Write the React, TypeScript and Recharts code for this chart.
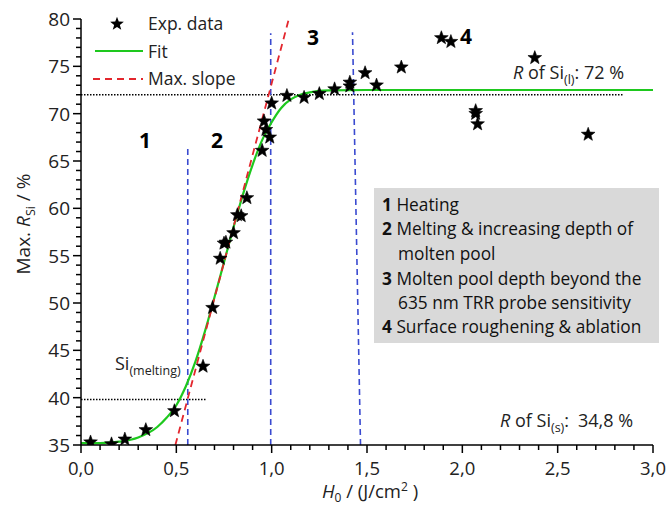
import { ComposedChart, XAxis, YAxis, Scatter, Line, ReferenceLine } from 'recharts'

const expH = [0.05, 0.16, 0.23, 0.34, 0.49, 0.64, 0.69, 0.73, 0.75, 0.76, 0.8, 0.82, 0.84, 0.87, 0.95, 0.96, 0.97, 0.99, 1.0, 1.08, 1.17, 1.25, 1.33, 1.41, 1.41, 1.49, 1.55, 1.68, 1.89, 1.94, 2.07, 2.07, 2.08, 2.38, 2.66]
const expR = [35.3, 35.1, 35.6, 36.6, 38.6, 43.3, 49.5, 54.7, 56.3, 56.4, 57.4, 59.3, 59.2, 61.1, 66.1, 69.2, 68.3, 67.5, 71.1, 71.9, 71.7, 72.1, 72.6, 73.3, 72.9, 74.3, 73.0, 74.9, 78.0, 77.6, 70.3, 70.0, 68.9, 75.9, 67.8]

// fitted curve
const fitH = [0, 0.1, 0.2, 0.3, 0.4, 0.45, 0.5, 0.55, 0.6, 0.65, 0.7, 0.75, 0.8, 0.85, 0.9, 0.95, 1.0, 1.05, 1.1, 1.15, 1.2, 1.3, 1.5, 3.0]
const fitR = [35.2, 35.2, 35.35, 35.8, 36.9, 37.9, 39.2, 41.2, 43.8, 47.0, 50.6, 54.3, 58.0, 61.5, 64.6, 67.2, 69.1, 70.6, 71.5, 72.0, 72.25, 72.45, 72.5, 72.5]

// max slope tangent
const slopeH = [0.495, 1.09]
const slopeR = [35, 80]

const xTicks = [0, 0.1, 0.2, 0.3, 0.4, 0.5, 0.6, 0.7, 0.8, 0.9, 1.0, 1.1, 1.2, 1.3, 1.4, 1.5, 1.6, 1.7, 1.8, 1.9, 2.0, 2.1, 2.2, 2.3, 2.4, 2.5, 2.6, 2.7, 2.8, 2.9, 3.0]
const yTicks = [35, 36, 37, 38, 39, 40, 41, 42, 43, 44, 45, 46, 47, 48, 49, 50, 51, 52, 53, 54, 55, 56, 57, 58, 59, 60, 61, 62, 63, 64, 65, 66, 67, 68, 69, 70, 71, 72, 73, 74, 75, 76, 77, 78, 79, 80]

const expData = expH.map((x, i) => ({ x, y: expR[i] }))
const fitData = fitH.map((x, i) => ({ x, y: fitR[i] }))
const slopeData = slopeH.map((x, i) => ({ x, y: slopeR[i] }))

const FONT = '"Open Sans", sans-serif'
const GREEN = '#1ec81e'
const RED = '#e3262d'
const BLUE = '#3a4ad0'

function starPoints(cx: number, cy: number, ro: number, ri: number) {
  const pts: string[] = []
  for (let i = 0; i < 10; i++) {
    const a = ((-90 + i * 36) * Math.PI) / 180
    const r = i % 2 === 0 ? ro : ri
    pts.push(`${cx + r * Math.cos(a)},${cy + r * Math.sin(a)}`)
  }
  return pts.join(' ')
}

const Star = (props: any) => {
  const { cx, cy } = props
  if (cx == null || cy == null) return null
  return <polygon points={starPoints(cx, cy, 7.2, 3)} fill="#000" stroke="#000" strokeWidth={0.6} />
}

const XTick = (props: any) => {
  const { x, y, payload } = props
  const v = payload.value as number
  const major = Math.round(v * 10) % 5 === 0
  return (
    <g>
      <line x1={x} y1={y} x2={x} y2={y + (major ? 8 : 5)} stroke="#000" strokeWidth={1.5} />
      {major && (
        <text x={x} y={y + 30} textAnchor="middle" fontSize={18.5} fontFamily={FONT} fill="#222">
          {v.toFixed(1).replace('.', ',')}
        </text>
      )}
    </g>
  )
}

const YTick = (props: any) => {
  const { x, y, payload } = props
  const v = payload.value as number
  const major = v % 5 === 0
  return (
    <g>
      <line x1={x - (major ? 8 : 5)} y1={y} x2={x} y2={y} stroke="#000" strokeWidth={1.5} />
      {major && (
        <text x={x - 11} y={y + 7} textAnchor="end" fontSize={19} fontFamily={FONT} fill="#222">
          {v}
        </text>
      )}
    </g>
  )
}

export default function App() {
  return (
    <div style={{ position: 'relative', width: 669, height: 505, background: '#fff' }}>
      <style>{'body{margin:0}'}</style>
      <ComposedChart width={669} height={505} margin={{ top: 19, right: 16, bottom: 0, left: 0 }}>
        <XAxis
          type="number"
          dataKey="x"
          domain={[0, 3]}
          ticks={xTicks}
          interval={0}
          tickLine={false}
          tickSize={0}
          tickMargin={0}
          tick={<XTick />}
          axisLine={{ stroke: '#000', strokeWidth: 1.5 }}
          height={60}
          allowDataOverflow
        />
        <YAxis
          type="number"
          dataKey="y"
          domain={[35, 80]}
          ticks={yTicks}
          interval={0}
          tickLine={false}
          tickSize={0}
          tickMargin={0}
          tick={<YTick />}
          axisLine={{ stroke: '#000', strokeWidth: 1.5 }}
          width={81}
          allowDataOverflow
        />
        <ReferenceLine segment={[{ x: 0, y: 72 }, { x: 2.84, y: 72 }]} stroke="#000" strokeDasharray="1.5 1.5" strokeWidth={1.5} />
        <ReferenceLine segment={[{ x: 0, y: 39.8 }, { x: 0.655, y: 39.8 }]} stroke="#000" strokeDasharray="1.5 1.5" strokeWidth={1.5} />
        <ReferenceLine segment={[{ x: 0.56, y: 35 }, { x: 0.56, y: 66.3 }]} stroke={BLUE} strokeDasharray="6 4" strokeWidth={1.6} />
        <ReferenceLine segment={[{ x: 0.995, y: 35 }, { x: 0.995, y: 78.5 }]} stroke={BLUE} strokeDasharray="6 4" strokeWidth={1.6} />
        <ReferenceLine segment={[{ x: 1.466, y: 35 }, { x: 1.424, y: 78.6 }]} stroke={BLUE} strokeDasharray="6 4" strokeWidth={1.6} />
        <Line data={fitData} dataKey="y" type="monotone" stroke={GREEN} strokeWidth={2.2} dot={false} isAnimationActive={false} />
        <Line data={slopeData} dataKey="y" type="linear" stroke={RED} strokeWidth={1.8} strokeDasharray="7 5" dot={false} isAnimationActive={false} />
        <Scatter data={expData} dataKey="y" shape={<Star />} isAnimationActive={false} />
      </ComposedChart>

      <svg width={669} height={505} style={{ position: 'absolute', left: 0, top: 0, pointerEvents: 'none' }} fontFamily={FONT}>
        {/* legend */}
        <polygon points={starPoints(117, 24, 7.2, 3)} fill="#000" />
        <text x={148} y={30} fontSize={17.5} fill="#222">Exp. data</text>
        <line x1={95} y1={51} x2={143} y2={51} stroke={GREEN} strokeWidth={2.2} />
        <text x={148} y={58} fontSize={17.5} fill="#222">Fit</text>
        <line x1={93} y1={79} x2={143} y2={79} stroke={RED} strokeWidth={1.8} strokeDasharray="7 5" />
        <text x={148} y={85} fontSize={17.5} fill="#222">Max. slope</text>

        {/* region numbers */}
        <g fontSize={21} fontWeight="bold" fill="#000" textAnchor="middle">
          <text x={145} y={148}>1</text>
          <text x={217} y={148}>2</text>
          <text x={313} y={45}>3</text>
          <text x={466} y={44}>4</text>
        </g>

        {/* annotations */}
        <text x={513} y={79} fontSize={18} fill="#222">
          <tspan fontStyle="italic">R</tspan> of Si<tspan fontSize={12.5} dy={5}>(l)</tspan>
          <tspan dy={-5}>: 72 %</tspan>
        </text>
        <text x={115} y={370} fontSize={18} fill="#222">
          Si<tspan fontSize={12.5} dy={5}>(melting)</tspan>
        </text>
        <text x={500} y={427} fontSize={18} fill="#222">
          <tspan fontStyle="italic">R</tspan> of Si<tspan fontSize={12.5} dy={5}>(s)</tspan>
          <tspan dy={-5}>:</tspan><tspan dx={9}>34,8 %</tspan>
        </text>

        {/* description box */}
        <rect x={374} y={188} width={285} height={155} fill="#d9d9d9" />
        <g fontSize={17.3} fill="#111">
          <text x={382} y={211}><tspan fontWeight="bold">1</tspan> Heating</text>
          <text x={382} y={235}><tspan fontWeight="bold">2</tspan> Melting &amp; increasing depth of</text>
          <text x={398} y={260}>molten pool</text>
          <text x={382} y={285}><tspan fontWeight="bold">3</tspan> Molten pool depth beyond the</text>
          <text x={398} y={309}>635 nm TRR probe sensitivity</text>
          <text x={382} y={333}><tspan fontWeight="bold">4</tspan> Surface roughening &amp; ablation</text>
        </g>

        {/* axis titles */}
        <text x={0} y={0} fontSize={19} fill="#222" textAnchor="middle" transform="translate(30 224) rotate(-90)">
          Max. <tspan fontStyle="italic">R</tspan><tspan fontSize={12.5} dy={5}>Si</tspan><tspan dy={-5}> / %</tspan>
        </text>
        <text x={370} y={498} fontSize={18.5} fill="#222" textAnchor="middle">
          <tspan fontStyle="italic">H</tspan><tspan fontSize={12} dy={4}>0</tspan><tspan dy={-4}> / (J/cm</tspan><tspan fontSize={12} dy={-7}>2</tspan><tspan dy={7}> )</tspan>
        </text>
      </svg>
    </div>
  )
}
